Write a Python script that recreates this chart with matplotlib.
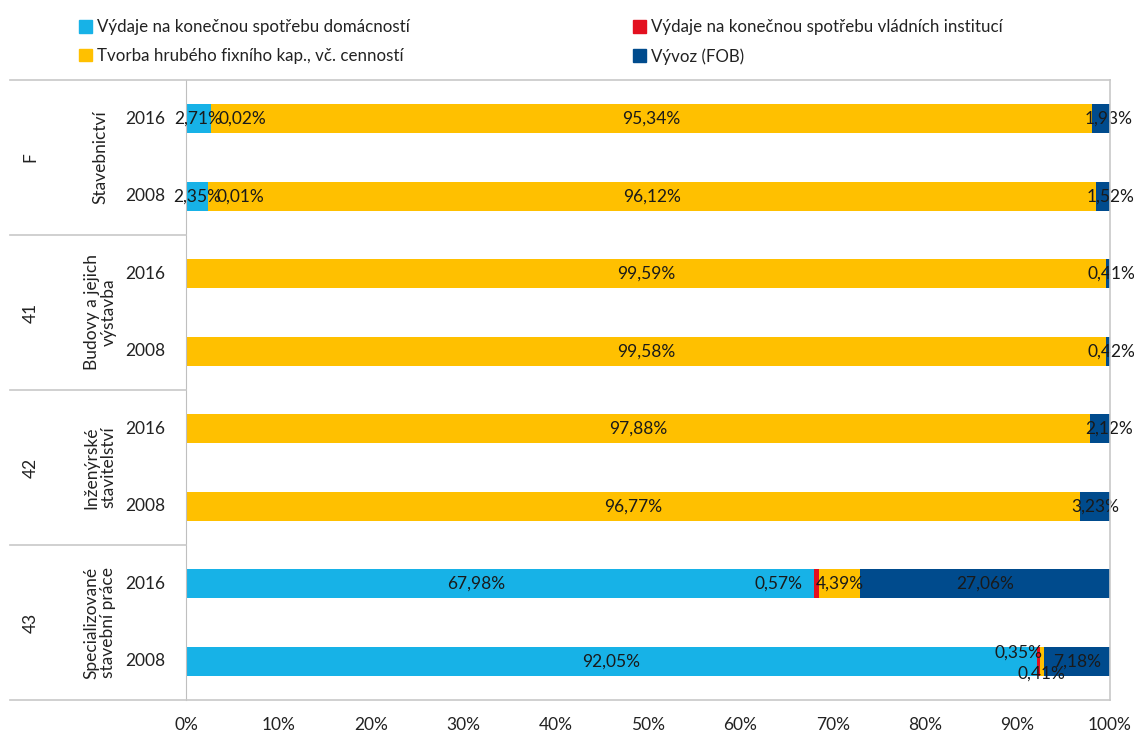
import matplotlib.pyplot as plt
from matplotlib.patches import Patch
from matplotlib.lines import Line2D

plt.rcParams['font.family'] = ['Lato', 'DejaVu Sans']

# data (shares in %), rows from top to bottom
groups = ['F', '41', '42', '43']
group_names = ['Stavebnictví', 'Budovy a jejich\nvýstavba',
               'Inženýrské\nstavitelství', 'Specializované\nstavební práce']
years = ['2016', '2008', '2016', '2008', '2016', '2008', '2016', '2008']

domacnosti = [2.71, 2.35, 0, 0, 0, 0, 67.98, 92.05]
vlada = [0.02, 0.01, 0, 0, 0, 0, 0.57, 0.35]
tvorba = [95.34, 96.12, 99.59, 99.58, 97.88, 96.77, 4.39, 0.41]
vyvoz = [1.93, 1.52, 0.41, 0.42, 2.12, 3.23, 27.06, 7.18]

series = [domacnosti, vlada, tvorba, vyvoz]
names = ['Výdaje na konečnou spotřebu domácností',
         'Výdaje na konečnou spotřebu vládních institucí',
         'Tvorba hrubého fixního kap., vč. cenností',
         'Vývoz (FOB)']
colors = ['#17b2e7', '#e3101f', '#ffc000', '#004b8d']

# label shifts in pixels (dx, dy) for labels that Excel nudged aside
shift = {(0, 1): (31, 0), (1, 1): (33, 0),
         (0, 3): (8, 0), (1, 3): (8, 0), (2, 3): (3, 0), (3, 3): (3, 0),
         (4, 3): (9, 0), (6, 0): (-24, 0), (6, 1): (-38, 0),
         (7, 1): (-20, -9), (7, 2): (0, 12)}

fig = plt.figure(figsize=(11.34, 7.38), dpi=100)
ax = fig.add_axes([186/1134, 1 - 700/738, 924/1134, 620/738])

fs = 12.5
tc = '#222222'

rows = list(range(len(years)))
left = [0]*len(rows)
for k, vals in enumerate(series):
    ax.barh(rows, vals, left=left, height=0.375, color=colors[k])
    for i, v in enumerate(vals):
        if v > 0:
            dx, dy = shift.get((i, k), (0, 0))
            ax.annotate(f'{v:.2f}%'.replace('.', ','), (left[i] + v/2, i),
                        xytext=(dx*0.72, -dy*0.72), textcoords='offset points',
                        ha='center', va='center', fontsize=fs, color='#1a1a1a')
    left = [a + b for a, b in zip(left, vals)]

ax.set_xlim(0, 100)
ax.set_ylim(len(rows) - 0.5, -0.5)
ax.set_xticks(range(0, 101, 10))
ax.set_xticklabels([f'{t}%' for t in range(0, 101, 10)], fontsize=fs, color=tc)
ax.set_yticks([])
ax.tick_params(axis='x', length=0, pad=12)
for s in ['top', 'right', 'bottom']:
    ax.spines[s].set_visible(False)
ax.spines['left'].set_color('#bfbfbf')

# left category labels
for i, y in enumerate(years):
    ax.text(-2.2, i, y, ha='right', va='center', fontsize=fs, color=tc)
for g in range(len(groups)):
    yc = 2*g + 0.5
    ax.text(-9.3, yc, group_names[g], rotation=90, ha='center', va='center',
            multialignment='center', fontsize=fs, color=tc, linespacing=1.05)
    ax.text(-16.8, yc, groups[g], rotation=90, ha='center', va='center',
            fontsize=fs, color=tc)

# frame lines
lc = '#c8c8c8'
for yy in [80, 235, 390, 545, 700]:
    x0 = 10/1134
    x1 = 1110/1134 if yy in (80, 700) else 186/1134
    fig.add_artist(Line2D([x0, x1], [1 - yy/738]*2, color=lc, lw=1.2))
fig.add_artist(Line2D([1110/1134]*2, [1 - 80/738, 1 - 700/738], color=lc, lw=1.2))

handles = [Patch(color=colors[0]), Patch(color=colors[2]),
           Patch(color=colors[1]), Patch(color=colors[3])]
labels = [names[0], names[2], names[1], names[3]]
fig.legend(handles, labels, ncol=2, loc='upper left', bbox_to_anchor=(64/1134, 1 - 4/738),
           frameon=False, fontsize=12.2, handlelength=0.75, handleheight=0.75,
           handletextpad=0.3, columnspacing=13.2, labelspacing=0.75, labelcolor=tc)

fig.savefig('out.png', dpi=100)
